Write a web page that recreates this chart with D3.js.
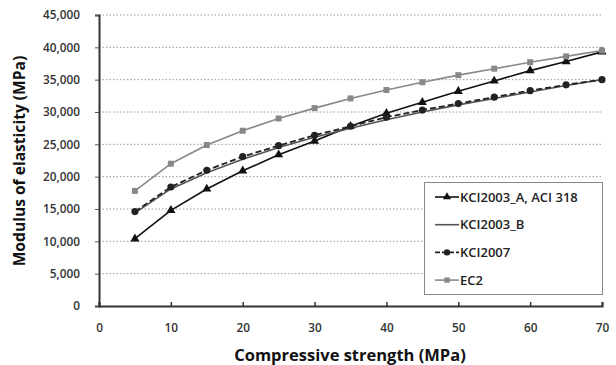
<!DOCTYPE html>
<html>
<head>
<script src="https://cdn.jsdelivr.net/npm/d3@7"></script>
<style>
  body { margin: 0; background: #fff; }
  text { font-family: "Open Sans", "Noto Sans", sans-serif; }
</style>
</head>
<body>
<div id="chart"></div>
<script>
// compressive strength (MPa)
var strength = [5, 10, 15, 20, 25, 30, 35, 40, 45, 50, 55, 60, 65, 70];
// modulus of elasticity (MPa)
var kci2003A = [10400, 14800, 18100, 20900, 23400, 25500, 27800, 29800, 31500, 33200, 34800, 36400, 37800, 39300];
var kci2003B = [14400, 18100, 20600, 22700, 24500, 26100, 27500, 28800, 30000, 31100, 32100, 33100, 34100, 35000];
var kci2007 = [14600, 18400, 21000, 23100, 24800, 26400, 27800, 29200, 30300, 31300, 32300, 33300, 34200, 35000];
var ec2 = [17800, 22000, 24900, 27100, 29000, 30600, 32100, 33400, 34600, 35700, 36700, 37700, 38600, 39500];
var xTicks = [0, 10, 20, 30, 40, 50, 60, 70];
var yTicks = [0, 5000, 10000, 15000, 20000, 25000, 30000, 35000, 40000, 45000];

var W = 616, H = 365;
var svg = d3.select("#chart").append("svg").attr("width", W).attr("height", H);

var x = d3.scaleLinear().domain([0, 70]).range([99, 602]);
var y = d3.scaleLinear().domain([0, 45000]).range([306, 15]);
var fmt = d3.format(",");

// dotted gridlines
svg.selectAll("line.grid").data(yTicks.slice(1)).enter().append("line")
  .attr("x1", 99).attr("x2", 602)
  .attr("y1", function(d) { return y(d); }).attr("y2", function(d) { return y(d); })
  .attr("stroke", "#9a9a9a").attr("stroke-width", 1).attr("stroke-dasharray", "1.5,2");

// y axis
var yAxis = svg.append("g").attr("transform", "translate(99,0)")
  .call(d3.axisLeft(y).tickValues(yTicks).tickFormat(fmt).tickSize(4).tickPadding(15));
yAxis.select(".domain").attr("stroke", "#333").attr("stroke-width", 2);
yAxis.selectAll("line").attr("stroke", "#555");
yAxis.selectAll("text").attr("font-size", 11.8).attr("fill", "#333").attr("font-weight", 600);

// x axis, ticks pointing inside
var xAxis = svg.append("g").attr("transform", "translate(0,306)")
  .call(d3.axisBottom(x).tickValues(xTicks).tickSize(-4).tickPadding(18));
xAxis.select(".domain").attr("stroke", "#333").attr("stroke-width", 2);
xAxis.selectAll("line").attr("stroke", "#333").attr("stroke-width", 1.5);
xAxis.selectAll("text").attr("font-size", 11.8).attr("fill", "#333").attr("font-weight", 600);

// axis titles
svg.append("text").attr("x", 350).attr("y", 361).attr("text-anchor", "middle")
  .attr("font-size", 16.5).attr("font-weight", "bold").attr("fill", "#111")
  .text("Compressive strength (MPa)");
svg.append("text").attr("transform", "translate(25,161) rotate(-90)").attr("text-anchor", "middle")
  .attr("font-size", 15.6).attr("font-weight", "bold").attr("fill", "#111")
  .text("Modulus of elasticity (MPa)");

var series = [
  { name: "KCI2003_A, ACI 318", values: kci2003A, color: "#111", width: 1.6, dash: null, marker: "triangle", size: 36 },
  { name: "KCI2003_B", values: kci2003B, color: "#555", width: 1.6, dash: null, marker: null },
  { name: "KCI2007", values: kci2007, color: "#222", width: 1.8, dash: "6,3", marker: "circle", size: 40 },
  { name: "EC2", values: ec2, color: "#888", width: 1.6, dash: null, marker: "square", size: 36 }
];
var symbols = { triangle: d3.symbolTriangle, circle: d3.symbolCircle, square: d3.symbolSquare };

var line = d3.line().x(function(d) { return x(d[0]); }).y(function(d) { return y(d[1]); });

series.forEach(function(s) {
  var pts = strength.map(function(v, i) { return [v, s.values[i]]; });
  svg.append("path").datum(pts).attr("d", line).attr("fill", "none")
    .attr("stroke", s.color).attr("stroke-width", s.width)
    .attr("stroke-dasharray", s.dash);
  if (s.marker) {
    svg.selectAll(null).data(pts).enter().append("path")
      .attr("d", d3.symbol().type(symbols[s.marker]).size(s.size))
      .attr("transform", function(d) { return "translate(" + x(d[0]) + "," + y(d[1]) + ")"; })
      .attr("fill", s.color);
  }
});

// legend
var lg = svg.append("g");
lg.append("rect").attr("x", 424.5).attr("y", 182.5).attr("width", 178).attr("height", 112)
  .attr("fill", "#fff").attr("stroke", "#888").attr("stroke-width", 1);
series.forEach(function(s, i) {
  var ly = 197 + i * 27.7;
  lg.append("line").attr("x1", 435).attr("x2", 459).attr("y1", ly).attr("y2", ly)
    .attr("stroke", s.color).attr("stroke-width", s.width).attr("stroke-dasharray", s.dash ? "5,2" : null);
  if (s.marker) {
    lg.append("path").attr("d", d3.symbol().type(symbols[s.marker]).size(s.size * 0.8))
      .attr("transform", "translate(447," + ly + ")").attr("fill", s.color);
  }
  lg.append("text").attr("x", 460).attr("y", ly + 4.5).attr("font-size", 13)
    .attr("fill", "#222").attr("font-weight", 600).text(s.name);
});
</script>
</body>
</html>
